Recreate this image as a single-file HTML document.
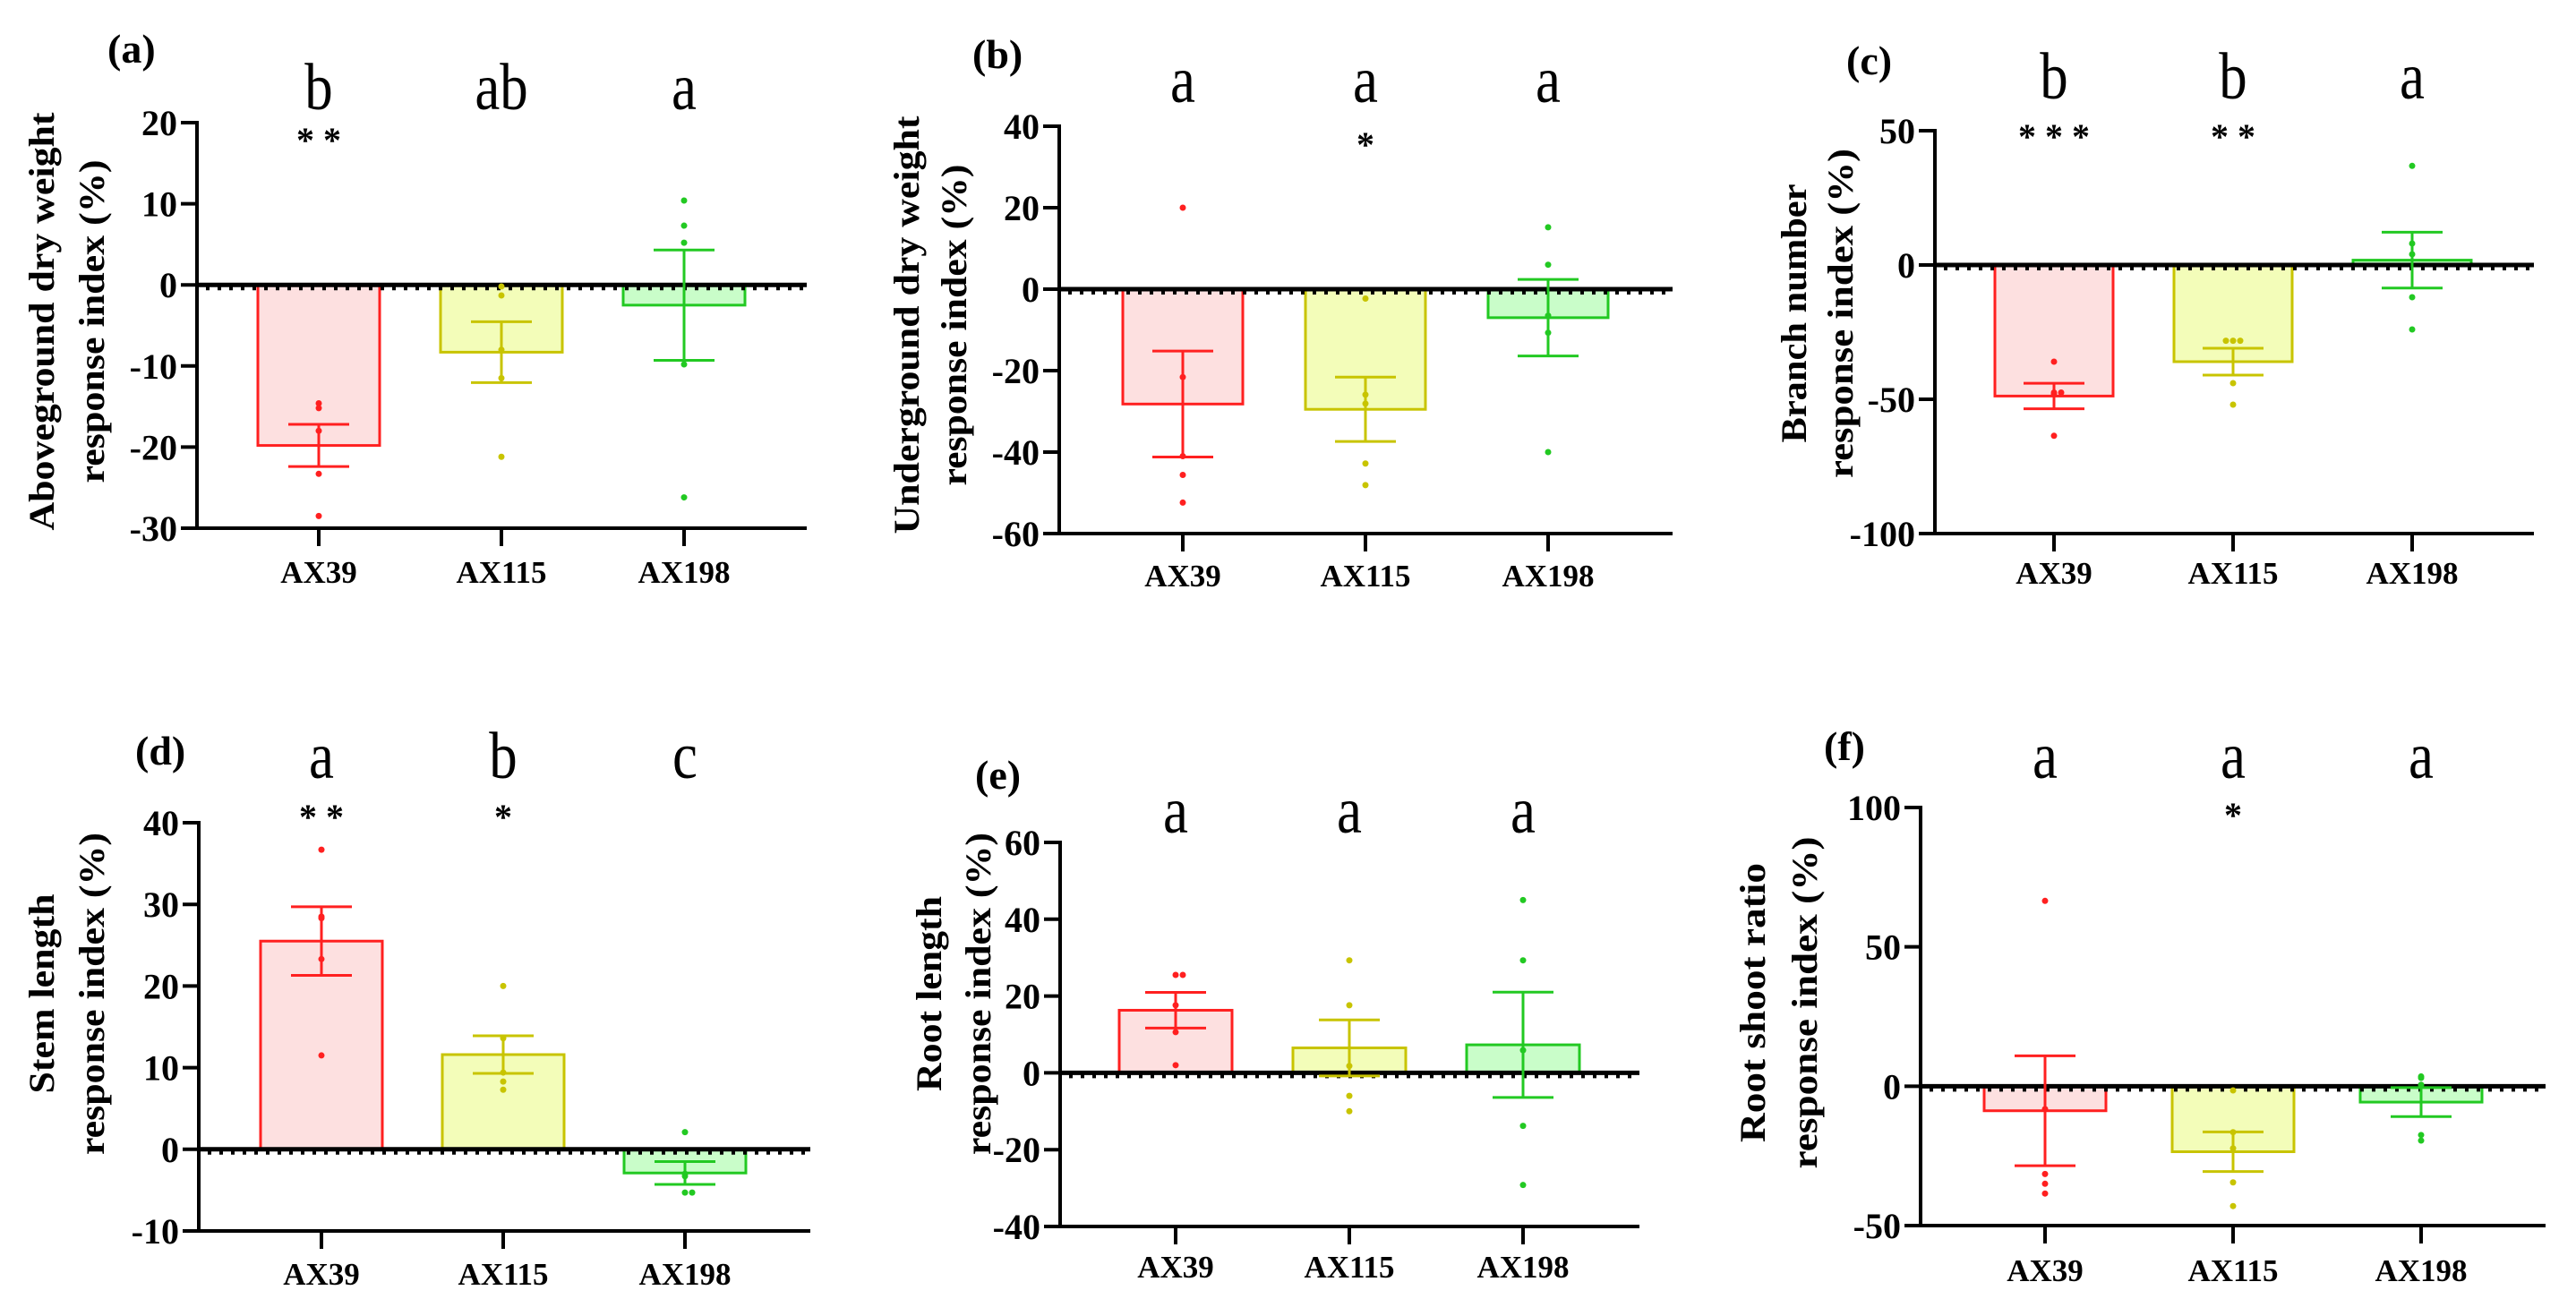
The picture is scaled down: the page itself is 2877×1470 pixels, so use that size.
<!DOCTYPE html>
<html><head><meta charset="utf-8"><title>Response index panels</title>
<style>
html,body{margin:0;padding:0;background:#fff;}
svg{display:block;}
text{font-family:"Liberation Serif",serif;fill:#000;}
</style></head>
<body>
<svg id="chart" width="2877" height="1470" viewBox="0 0 2877 1470" xmlns="http://www.w3.org/2000/svg"></svg>
<script>
// ---------- data ----------
const categories = ["AX39","AX115","AX198"];

const aMeans = [-19.8, -8.3, -2.5];
const aSem = [2.6, 3.75, 6.8];
const aPoints = [[-14.6,-15.2,-18,-23.3,-28.5],[-0.2,-1.3,-8,-11.5,-21.2],[10.4,7.3,5.2,-9.8,-26.2]];
const aTicks = [20,10,0,-10,-20,-30];
const aLetters = ["b","ab","a"];
const aStars = ["**","",""];

const bMeans = [-28.2, -29.5, -7];
const bSem = [13.0, 7.9, 9.4];
const bPoints = [[20,-21.6,-41,-45.6,-52.4],[-2.3,-25.9,-28.1,-42.8,-48.1],[15.2,6,-6.5,-10.7,-40]];
const bTicks = [40,20,0,-20,-40,-60];
const bLetters = ["a","a","a"];
const bStars = ["","*",""];

const cMeans = [-48.8, -36, 1.8];
const cSem = [4.75, 5.0, 10.4];
const cPoints = [[-36,-47.5,-47.5,-48,-63.6],[-28.2,-28.2,-28.2,-44,-52],[36.9,8,4,-12,-24]];
const cTicks = [50,0,-50,-100];
const cLetters = ["b","b","a"];
const cStars = ["***","**",""];

const dMeans = [25.5, 11.6, -2.9];
const dSem = [4.2, 2.3, 1.4];
const dPoints = [[36.7,28.5,28.3,23.3,11.5],[20,13.6,9.4,8.3,7.3],[2.1,-3,-3.3,-5.3,-5.3]];
const dTicks = [40,30,20,10,0,-10];
const dLetters = ["a","b","c"];
const dStars = ["**","*",""];

const eMeans = [16.3, 6.5, 7.3];
const eSem = [4.65, 7.3, 13.7];
const ePoints = [[25.5,25.5,17.6,10.6,2],[29.3,17.6,1.8,-6,-10],[45,29.3,5.9,-13.8,-29.2]];
const eTicks = [60,40,20,0,-20,-40];
const eLetters = ["a","a","a"];
const eStars = ["","",""];

const fMeans = [-8.8, -23.5, -5.7];
const fSem = [19.7, 7.1, 5.2];
const fPoints = [[66.5,-8.2,-31.5,-35,-38.5],[-1.5,-16.5,-22.3,-34.5,-43],[3.5,3,0.5,-17.5,-19.5]];
const fTicks = [100,50,0,-50];
const fLetters = ["a","a","a"];
const fStars = ["","*",""];

// ---------- drawing ----------
const NS = "http://www.w3.org/2000/svg";
const svg = document.getElementById("chart");
const strokeCols = ["#ff2020","#c8c400","#22c922"];
const fillCols = ["#fde0e0","#f3fdb9","#c9fdc9"];

function mk(tag, attrs, parent){
  const e = document.createElementNS(NS, tag);
  for (const k in attrs) e.setAttribute(k, attrs[k]);
  if (tag === "text") e.setAttribute("font-family", "Liberation Serif, serif");
  (parent||svg).appendChild(e);
  return e;
}

function panel(cfg){
  const g = mk("g", {});
  
  
  const yMin = cfg.ticks[cfg.ticks.length-1], yMax = cfg.ticks[0];
  const yS = v => cfg.yBot - (v - yMin) / (yMax - yMin) * (cfg.yBot - cfg.yTop);
  const xS = i => cfg.cat0 + i * cfg.step;
  const y0 = yS(0);

  cfg.means.forEach((m, i) => {
    const top = Math.min(yS(m), y0), h = Math.abs(yS(m) - y0);
    const r = mk("rect", {x: xS(i)-cfg.half, y: top, width: cfg.half*2, height: Math.max(h,1),
      fill: fillCols[i], stroke: strokeCols[i], "stroke-width": 3}, g);
    
    
  });

  const zl = mk("line", {x1: cfg.axisX, x2: cfg.xEnd, y1: y0, y2: y0, stroke: "#000", "stroke-width": 5}, g);
  
  
  const zd = mk("line", {x1: cfg.axisX+10, x2: cfg.xEnd, y1: y0+4, y2: y0+4, stroke: "#000", "stroke-width": 4, "stroke-dasharray": "4 9"}, g);
  
  

  cfg.means.forEach((m, i) => {
    const eg = mk("g", {stroke: strokeCols[i], "stroke-width": 3}, g);
    
    
    const hi = yS(m + cfg.sem[i]), lo = yS(m - cfg.sem[i]), x = xS(i);
    mk("line", {x1: x, x2: x, y1: hi, y2: lo}, eg);
    mk("line", {x1: x-34, x2: x+34, y1: hi, y2: hi}, eg);
    mk("line", {x1: x-34, x2: x+34, y1: lo, y2: lo}, eg);
  });

  cfg.points.forEach((arr, i) => {
    const seen = {};
    arr.forEach(v => {
      const k = v.toFixed(1);
      const n = seen[k] || 0; seen[k] = n + 1;
      const off = n === 0 ? 0 : (n % 2 ? 1 : -1) * Math.ceil(n/2) * 8;
      const c = mk("circle", {cx: xS(i) + off, cy: yS(v), r: 3.5, fill: strokeCols[i]}, g);
      
      
    });
  });

  const ya = mk("line", {x1: cfg.axisX, x2: cfg.axisX, y1: cfg.yTop-2, y2: cfg.yBot+2, stroke: "#000", "stroke-width": 4}, g);
  
  
  const xa = mk("line", {x1: cfg.axisX-2, x2: cfg.xEnd, y1: cfg.yBot, y2: cfg.yBot, stroke: "#000", "stroke-width": 4}, g);
  
  

  cfg.ticks.forEach(t => {
    const y = yS(t);
    mk("line", {x1: cfg.axisX-18, x2: cfg.axisX, y1: y, y2: y, stroke: "#000", "stroke-width": 4}, g);
    const tx = mk("text", {x: cfg.axisX-22, y: y+14, "text-anchor": "end", "font-size": 40, "font-weight": "bold"}, g);
    tx.textContent = t < 0 ? "-" + Math.abs(t) : String(t);
    
    
  });

  categories.forEach((c, i) => {
    const x = xS(i);
    mk("line", {x1: x, x2: x, y1: cfg.yBot, y2: cfg.yBot+20, stroke: "#000", "stroke-width": 4}, g);
    const tx = mk("text", {x: x, y: cfg.catY, "text-anchor": "middle", "font-size": 35, "font-weight": "bold"}, g);
    tx.textContent = c;
    
    

    const lt = mk("text", {x: 0, y: 0, transform: `translate(${x},${cfg.letterY}) scale(0.85,1)`, "text-anchor": "middle", "font-size": 74}, g);
    lt.textContent = cfg.letters[i];
    
    

    if (cfg.stars[i]) {
      const st = mk("text", {x: x+5, y: cfg.starY+18, "text-anchor": "middle", "font-size": 40, "font-weight": "bold", "letter-spacing": 10}, g);
      st.textContent = cfg.stars[i];
      
      
    }
  });

  const pl = mk("text", {x: cfg.labX, y: cfg.labY, "font-size": 46, "font-weight": "bold"}, g);
  pl.textContent = "(" + cfg.id + ")";
  
  

  cfg.title.forEach((line, j) => {
    const x = cfg.titleX[j] + 14;
    const tt = mk("text", {x: 0, y: 0, transform: `translate(${x},${cfg.titleY}) rotate(-90)`,
      "text-anchor": "middle", "font-size": 40, "font-weight": "bold",
      textLength: cfg.titleLen[j], lengthAdjust: "spacingAndGlyphs"}, g);
    tt.textContent = line;
    
    
  });
}

panel({id:"a", means:aMeans, sem:aSem, points:aPoints, ticks:aTicks, letters:aLetters, stars:aStars,
  axisX:220, xEnd:901, yTop:137, yBot:590, cat0:356, step:204, half:68, catY:651, letterY:122, starY:152,
  labX:120, labY:70, titleX:[46,102], titleY:359, title:["Aboveground dry weight","response index (%)"], titleLen:[467,361]});
panel({id:"b", means:bMeans, sem:bSem, points:bPoints, ticks:bTicks, letters:bLetters, stars:bStars,
  axisX:1183, xEnd:1868, yTop:141, yBot:596, cat0:1321, step:204, half:67, catY:655, letterY:114, starY:157,
  labX:1086, labY:76, titleX:[1012,1065], titleY:363, title:["Underground dry weight","response index (%)"], titleLen:[467,359]});
panel({id:"c", means:cMeans, sem:cSem, points:cPoints, ticks:cTicks, letters:cLetters, stars:cStars,
  axisX:2161, xEnd:2830, yTop:146, yBot:596, cat0:2294, step:200, half:66, catY:652, letterY:110, starY:148,
  labX:2062, labY:83, titleX:[2003,2055], titleY:350, title:["Branch number","response index (%)"], titleLen:[289,368]});
panel({id:"d", means:dMeans, sem:dSem, points:dPoints, ticks:dTicks, letters:dLetters, stars:dStars,
  axisX:222, xEnd:905, yTop:919, yBot:1375, cat0:359, step:203, half:68, catY:1435, letterY:869, starY:908,
  labX:151, labY:854, titleX:[46,102], titleY:1110, title:["Stem length","response index (%)"], titleLen:[223,360]});
panel({id:"e", means:eMeans, sem:eSem, points:ePoints, ticks:eTicks, letters:eLetters, stars:eStars,
  axisX:1184, xEnd:1831, yTop:941, yBot:1370, cat0:1313, step:194, half:63, catY:1427, letterY:930, starY:960,
  labX:1089, labY:881, titleX:[1037,1092], titleY:1110, title:["Root length","response index (%)"], titleLen:[218,360]});
panel({id:"f", means:fMeans, sem:fSem, points:fPoints, ticks:fTicks, letters:fLetters, stars:fStars,
  axisX:2145, xEnd:2843, yTop:902, yBot:1369, cat0:2284, step:210, half:68, catY:1431, letterY:869, starY:906,
  labX:2037, labY:849, titleX:[1957,2015], titleY:1120, title:["Root shoot ratio","response index (%)"], titleLen:[312,371]});
</script>
</body></html>
